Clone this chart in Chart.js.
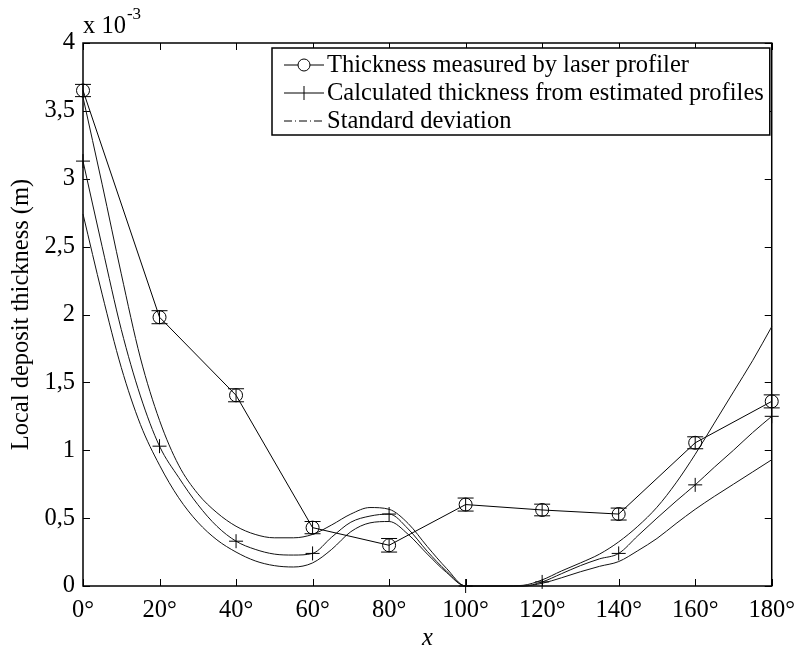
<!DOCTYPE html>
<html>
<head>
<meta charset="utf-8">
<title>Local deposit thickness</title>
<script src="https://cdn.jsdelivr.net/npm/chart.js@4/dist/chart.umd.min.js"></script>
<style>
  html, body { margin: 0; padding: 0; background: #fff; }
  #wrap { width: 805px; height: 653px; position: relative; }
</style>
</head>
<body>
<div id="wrap"><canvas id="thicknessChart"></canvas></div>
<script>
// thickness values are in units of 10^-3 m
const measAngles = [0, 20, 40, 60, 80, 100, 120, 140, 160, 180];
const measThickness = [3.65, 1.98, 1.405, 0.43, 0.30, 0.60, 0.56, 0.53, 1.055, 1.36];
const measError = [0.045, 0.048, 0.048, 0.045, 0.05, 0.048, 0.043, 0.044, 0.044, 0.048];

const curveAngles = [0, 5, 10, 15, 20, 25, 30, 35, 40, 45, 50, 55, 60, 65, 70, 75, 80, 85, 90,
  95, 100, 105, 110, 115, 120, 125, 130, 135, 140, 145, 150, 155, 160, 165, 170, 175, 180];
const calcThickness = [3.13, 2.50, 1.89, 1.40, 1.03, 0.80, 0.60, 0.44, 0.33, 0.27, 0.235, 0.228, 0.24,
  0.36, 0.47, 0.515, 0.53, 0.42, 0.255, 0.11, 0, 0, 0, 0, 0.03, 0.09, 0.15, 0.2, 0.24,
  0.37, 0.50, 0.625, 0.745, 0.875, 1.0, 1.13, 1.25];
const stdUpper = [3.60, 2.96, 2.30, 1.68, 1.22, 0.89, 0.68, 0.54, 0.44, 0.38, 0.355, 0.355, 0.38,
  0.45, 0.53, 0.578, 0.565, 0.46, 0.29, 0.13, 0, 0, 0, 0.005, 0.045, 0.11, 0.17, 0.235, 0.325,
  0.44, 0.58, 0.76, 0.97, 1.2, 1.43, 1.66, 1.91];
const stdLower = [2.74, 2.15, 1.61, 1.19, 0.89, 0.65, 0.47, 0.34, 0.25, 0.185, 0.15, 0.14, 0.17,
  0.27, 0.40, 0.465, 0.475, 0.38, 0.235, 0.10, 0, 0, 0, 0, 0.02, 0.06, 0.105, 0.145, 0.18,
  0.26, 0.35, 0.46, 0.565, 0.66, 0.75, 0.84, 0.93];

const xTickValues = [0, 20, 40, 60, 80, 100, 120, 140, 160, 180];
const yTickValues = [0, 0.5, 1, 1.5, 2, 2.5, 3, 3.5, 4];

const measLabel = 'Thickness measured by laser profiler';
const calcLabel = 'Calculated thickness from estimated profiles';
const stdLabel = 'Standard deviation';

const FONT = '"Liberation Serif", "Times New Roman", serif';
const FONT_SIZE = 24.5;
Chart.defaults.font.family = FONT;
Chart.defaults.font.size = FONT_SIZE;
Chart.defaults.color = '#000';

const pairs = (xs, ys) => xs.map((x, i) => ({ x: x, y: ys[i] }));

// box around the plot with inward ticks on all four sides
const frameTicks = {
  id: 'frameTicks',
  beforeDatasetsDraw(chart) {
    const { ctx, chartArea: a, scales } = chart;
    const len = 7;
    ctx.save();
    ctx.strokeStyle = '#000';
    ctx.lineWidth = 1;
    ctx.beginPath();
    scales.x.ticks.forEach(t => {
      const px = Math.round(scales.x.getPixelForValue(t.value)) + 0.5;
      ctx.moveTo(px, a.bottom); ctx.lineTo(px, a.bottom - len);
      ctx.moveTo(px, a.top); ctx.lineTo(px, a.top + len);
    });
    scales.y.ticks.forEach(t => {
      const py = Math.round(scales.y.getPixelForValue(t.value)) + 0.5;
      ctx.moveTo(a.left, py); ctx.lineTo(a.left + len, py);
      ctx.moveTo(a.right, py); ctx.lineTo(a.right - len, py);
    });
    ctx.stroke();
    ctx.lineWidth = 1.5;
    ctx.strokeRect(a.left, a.top, a.right - a.left, a.bottom - a.top);
    ctx.restore();
  }
};

// vertical error bars with caps on the measured points
const errorBars = {
  id: 'errorBars',
  afterDatasetsDraw(chart) {
    const { ctx, scales } = chart;
    const cap = 8;
    ctx.save();
    ctx.strokeStyle = '#000';
    ctx.lineWidth = 1;
    ctx.beginPath();
    measAngles.forEach((ang, i) => {
      const px = scales.x.getPixelForValue(ang);
      const yTop = scales.y.getPixelForValue(measThickness[i] + measError[i]);
      const yBot = scales.y.getPixelForValue(measThickness[i] - measError[i]);
      ctx.moveTo(px, yTop); ctx.lineTo(px, yBot);
      ctx.moveTo(px - cap, yTop); ctx.lineTo(px + cap, yTop);
      ctx.moveTo(px - cap, yBot); ctx.lineTo(px + cap, yBot);
    });
    ctx.stroke();
    ctx.restore();
  }
};

// "x 10^-3" multiplier above the y axis, and the legend box
const annotations = {
  id: 'annotations',
  afterDraw(chart) {
    const { ctx, chartArea: a } = chart;
    ctx.save();
    ctx.fillStyle = '#000';
    ctx.textBaseline = 'alphabetic';
    ctx.font = FONT_SIZE + 'px ' + FONT;
    ctx.fillText('x 10', a.left, a.top - 10);
    const w = ctx.measureText('x 10').width;
    ctx.font = '17px ' + FONT;
    ctx.fillText('-3', a.left + w + 1, a.top - 24);

    const rows = [measLabel, calcLabel, stdLabel];
    const left = a.left + 189, top = a.top + 5, rowH = 28;
    const lineX0 = left + 12, lineX1 = left + 52, textX = left + 55;
    ctx.font = FONT_SIZE + 'px ' + FONT;
    const textW = Math.max(...rows.map(r => ctx.measureText(r).width));
    const boxW = textX + textW + 6 - left, boxH = rowH * 3 + 3;
    ctx.fillStyle = '#fff';
    ctx.fillRect(left, top, boxW, boxH);
    ctx.strokeStyle = '#000';
    ctx.lineWidth = 1.5;
    ctx.strokeRect(left, top, boxW, boxH);

    ctx.lineWidth = 1;
    rows.forEach((label, i) => {
      const cy = top + 17 + i * rowH;
      const mid = (lineX0 + lineX1) / 2;
      ctx.beginPath();
      if (i === 2) ctx.setLineDash([8, 3, 1, 3]);
      ctx.moveTo(lineX0, cy); ctx.lineTo(lineX1, cy);
      ctx.stroke();
      ctx.setLineDash([]);
      ctx.beginPath();
      if (i === 0) {
        ctx.arc(mid, cy, 6, 0, Math.PI * 2);
        ctx.fillStyle = '#fff';
        ctx.fill();
      } else if (i === 1) {
        ctx.moveTo(mid, cy - 7); ctx.lineTo(mid, cy + 7);
      }
      ctx.stroke();
      ctx.fillStyle = '#000';
      ctx.textBaseline = 'middle';
      ctx.fillText(label, textX, cy + 1);
    });
    ctx.restore();
  }
};

const ctx = document.getElementById('thicknessChart').getContext('2d');
const thicknessChart = new Chart(ctx, {
  type: 'line',
  data: {
    datasets: [
      {
        label: measLabel,
        data: pairs(measAngles, measThickness),
        borderColor: '#000',
        borderWidth: 1,
        pointStyle: 'circle',
        pointRadius: 6.5,
        pointBorderWidth: 1,
        pointBorderColor: '#000',
        pointBackgroundColor: 'rgba(0,0,0,0)',
        tension: 0,
        clip: false,
      },
      {
        label: calcLabel,
        data: pairs(curveAngles, calcThickness),
        borderColor: '#111',
        borderWidth: 1,
        pointStyle: 'cross',
        pointRadius: c => (curveAngles[c.dataIndex] % 20 === 0 ? 7 : 0),
        pointBorderWidth: 1,
        pointBorderColor: '#000',
        cubicInterpolationMode: 'monotone',
        clip: false,
      },
      {
        label: stdLabel,
        data: pairs(curveAngles, stdUpper),
        borderColor: '#111',
        borderWidth: 1,
        pointRadius: 0,
        cubicInterpolationMode: 'monotone',
        clip: false,
      },
      {
        label: stdLabel,
        data: pairs(curveAngles, stdLower),
        borderColor: '#111',
        borderWidth: 1,
        pointRadius: 0,
        cubicInterpolationMode: 'monotone',
        clip: false,
      }
    ]
  },
  options: {
    responsive: true,
    maintainAspectRatio: false,
    animation: false,
    layout: { padding: { left: 0, top: 43, right: 31, bottom: 0 } },
    plugins: {
      legend: { display: false },
      tooltip: { enabled: false },
    },
    scales: {
      x: {
        type: 'linear',
        min: 0,
        max: 180,
        afterBuildTicks: s => { s.ticks = xTickValues.map(v => ({ value: v })); },
        afterFit: s => { s.height = 67; },
        grid: { display: false, drawTicks: false },
        border: { display: false },
        ticks: {
          padding: 10,
          maxRotation: 0,
          autoSkip: false,
          callback: v => v + '°',
        },
        title: {
          display: true,
          text: 'x',
          font: { style: 'italic' },
          padding: { top: 0, bottom: 0 },
        },
      },
      y: {
        type: 'linear',
        min: 0,
        max: 4,
        afterBuildTicks: s => { s.ticks = yTickValues.map(v => ({ value: v })); },
        afterFit: s => { s.width = 83; },
        grid: { display: false, drawTicks: false },
        border: { display: false },
        ticks: {
          padding: 8,
          autoSkip: false,
          callback: v => String(v).replace('.', ','),
        },
        title: {
          display: true,
          text: 'Local deposit thickness (m)',
          padding: { top: 7, bottom: 0 },
        },
      }
    }
  },
  plugins: [frameTicks, errorBars, annotations]
});
</script>
</body>
</html>
